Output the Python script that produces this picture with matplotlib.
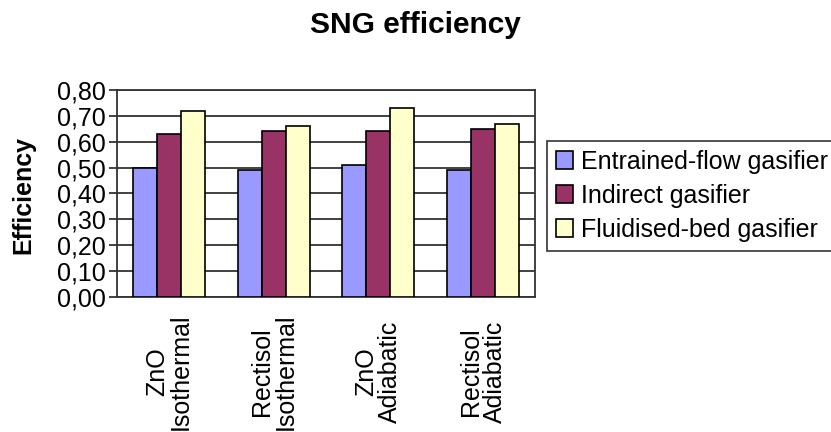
import matplotlib
matplotlib.use("Agg")
import matplotlib.pyplot as plt
import numpy as np

# data
categories = ["ZnO\nIsothermal", "Rectisol\nIsothermal", "ZnO\nAdiabatic", "Rectisol\nAdiabatic"]
series_names = ["Entrained-flow gasifier", "Indirect gasifier", "Fluidised-bed gasifier"]
entrained = [0.50, 0.49, 0.51, 0.49]
indirect = [0.63, 0.64, 0.64, 0.65]
fluidised = [0.72, 0.66, 0.73, 0.67]
colors = ["#9999FF", "#993366", "#FFFFCC"]
yticks = [0.0, 0.1, 0.2, 0.3, 0.4, 0.5, 0.6, 0.7, 0.8]

plt.rcParams['font.family'] = ['Liberation Sans', 'DejaVu Sans']

fig = plt.figure(figsize=(8.31, 4.32), dpi=100)
ax = fig.add_axes([117/831, 1 - 297/432, 418/831, 207/432])

x = np.arange(len(categories))
w = 0.23
for i, (vals, name) in enumerate(zip([entrained, indirect, fluidised], series_names)):
    ax.bar(x + (i - 1) * w, vals, w, color=colors[i], edgecolor="black",
           linewidth=1.2, label=name, zorder=3)

ax.set_xlim(-0.5, len(categories) - 0.5)
ax.set_ylim(0, 0.8)
ax.set_yticks(yticks)
ax.set_yticklabels([("%.2f" % v).replace(".", ",") for v in yticks], fontsize=18)
ax.yaxis.grid(True, color="#333333", linewidth=1.3, zorder=0)
ax.tick_params(axis="y", length=6, width=1.3, color="#333333", pad=2)

ax.set_xticks(x)
ax.set_xticklabels(categories, rotation=90, fontsize=18, va="center",
                   ha="center", multialignment="center", linespacing=1.0)
ax.tick_params(axis="x", length=0, pad=54)

for s in ax.spines.values():
    s.set_color("#333333")
    s.set_linewidth(1.3)

fig.text(23/831, 1 - 195/432, "Efficiency", rotation=90, fontsize=18,
         fontweight="bold", ha="center", va="center")
fig.text(0.5, 1 - 25/432, "SNG efficiency", fontsize=21.5, fontweight="bold",
         ha="center", va="center")

leg = fig.legend(loc="upper left", bbox_to_anchor=(547/831, 1 - 141/432),
                 fontsize=18, frameon=True, fancybox=False, edgecolor="black",
                 handlelength=0.7, handleheight=0.7, handletextpad=0.3,
                 labelspacing=0.4, borderpad=0.35, borderaxespad=0)
leg.get_frame().set_linewidth(1.2)

fig.savefig("out.png", dpi=100)
